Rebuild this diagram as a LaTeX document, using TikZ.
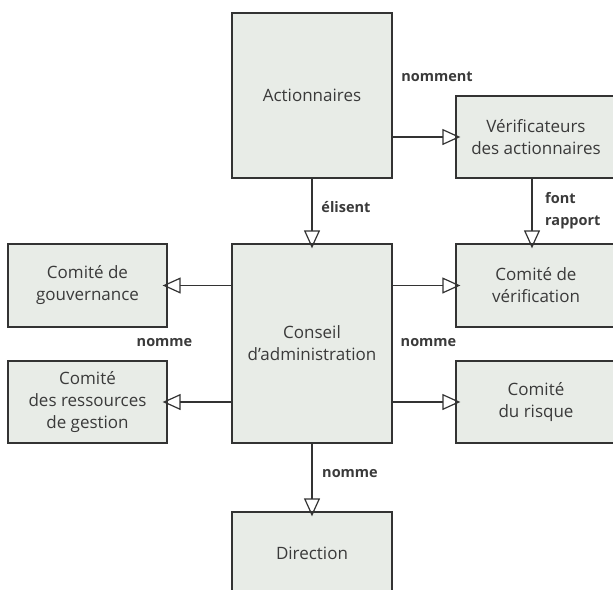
\documentclass[tikz,border=0pt]{standalone}
\usepackage{fontspec}
\setmainfont{Open Sans}
\usetikzlibrary{arrows.meta}
\definecolor{boxfill}{HTML}{E8ECE7}
\definecolor{boxline}{HTML}{333333}
\definecolor{txt}{HTML}{3A3A3A}
\begin{document}
\begin{tikzpicture}[x=1pt,y=-1pt,
  box/.style={draw=boxline, fill=boxfill, line width=1.3pt, inner sep=0pt, align=center, text=txt, font=\fontsize{17}{22}\selectfont},
  lbl/.style={font=\fontsize{14.5}{22}\selectfont\bfseries, text=txt, inner sep=0pt},
  arr/.style={draw=boxline, line width=1.3pt, -{Triangle[open, length=18pt, width=16pt, line width=1.2pt]}, shorten >=-5pt}]
\useasboundingbox (0,0) rectangle (613,589);
\clip (0,0) rectangle (613,589);
% boxes
\node[box, minimum width=160pt, minimum height=165pt] (act) at (312,95.5) {Actionnaires};
\node[box, minimum width=160pt, minimum height=82pt] (ver) at (536,137) {Vérificateurs\\des actionnaires};
\node[box, minimum width=159pt, minimum height=83pt] (gouv) at (87.5,285.5) {Comité de\\gouvernance};
\node[box, minimum width=159pt, minimum height=82pt] (ress) at (87.5,402) {Comité\\des ressources\\de gestion};
\node[box, minimum width=160pt, minimum height=199pt] (cons) at (312,343.5) {Conseil\\d’administration};
\node[box, minimum width=160pt, minimum height=83pt] (verif) at (536,285.5) {Comité de\\vérification};
\node[box, minimum width=160pt, minimum height=82pt] (risq) at (536,402) {Comité\\du risque};
\node[box, minimum width=160pt, minimum height=82pt] (dir) at (312,553) {Direction};
% connectors
\draw[arr] (ver.west -| act.east) -- (ver.west);
\draw[arr] (act.south) -- (cons.north);
\draw[arr] ([xshift=-4pt]ver.south) -- ([xshift=-4pt]verif.north);
\draw[arr] (gouv.east -| cons.west) -- (gouv.east);
\draw[arr] (ress.east -| cons.west) -- (ress.east);
\draw[arr] (verif.west -| cons.east) -- (verif.west);
\draw[arr] (risq.west -| cons.east) -- (risq.west);
\draw[arr] (cons.south) -- (dir.north);
% labels
\node[lbl] (l1) at (437,77) {nomment};
\node[lbl] (l2) at (346,207) {élisent};
\node[lbl, align=left, anchor=west] (l3) at (545,211) {font\\rapport};
\node[lbl] (l4) at (164.5,343) {nomme};
\node[lbl] (l5) at (428.5,343) {nomme};
\node[lbl] (l6) at (350,474) {nomme};
\end{tikzpicture}
\end{document}
